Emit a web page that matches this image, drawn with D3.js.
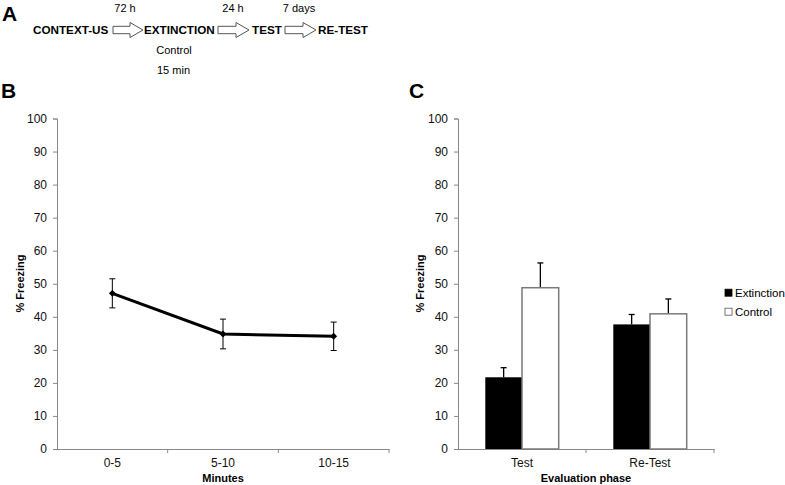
<!DOCTYPE html>
<html><head><meta charset="utf-8">
<script src="https://cdn.jsdelivr.net/npm/d3@7"></script>
<style>body{margin:0;background:#fff}svg{display:block;font-family:"Liberation Sans",Arial,sans-serif}</style>
</head><body>
<svg id="c" width="785" height="485"></svg>
<script>
// ---- data ----
const minuteCats = ["0-5", "5-10", "10-15"];
const minuteMeans = [47.1, 34.8, 34.1];
const minuteErr = [4.4, 4.5, 4.3];

const phaseCats = ["Test", "Re-Test"];
const groups = ["Extinction", "Control"];
const extinctionMeans = [21.7, 37.7];
const extinctionErr = [2.9, 3.0];
const controlMeans = [48.8, 40.9];
const controlErr = [7.5, 4.5];

const yTicks = [0, 10, 20, 30, 40, 50, 60, 70, 80, 90, 100];

const svg = d3.select("#c");
const axisCol = "#888";

// ---- panel A: protocol ----
function arrow(x0, x1, yc) {
  const sh = 3.7, hh = 7.5, hl = 13;
  const p = [[x0, yc - sh], [x1 - hl, yc - sh], [x1 - hl, yc - hh], [x1, yc], [x1 - hl, yc + hh], [x1 - hl, yc + sh], [x0, yc + sh]];
  svg.append("path").attr("d", "M" + p.join("L") + "Z").attr("fill", "#fff").attr("stroke", "#555").attr("stroke-width", 1);
}
svg.append("text").attr("x", 2).attr("y", 21).attr("font-size", 21).attr("font-weight", "bold").text("A");
const stepY = 34;
[["CONTEXT-US", 33], ["EXTINCTION", 144], ["TEST", 252], ["RE-TEST", 318]].forEach(([t, x]) =>
  svg.append("text").attr("x", x).attr("y", stepY).attr("font-size", 11.7).attr("font-weight", "bold").text(t));
arrow(113, 143, 30); arrow(218, 249, 30); arrow(285, 316, 30);
[["72 h", 125], ["24 h", 233], ["7 days", 299]].forEach(([t, x]) =>
  svg.append("text").attr("x", x).attr("y", 12).attr("font-size", 11).attr("text-anchor", "middle").text(t));
svg.append("text").attr("x", 174).attr("y", 54).attr("font-size", 11).attr("text-anchor", "middle").text("Control");
svg.append("text").attr("x", 157).attr("y", 74).attr("font-size", 11).text("15 min");

// ---- panel B ----
svg.append("text").attr("x", 1).attr("y", 98).attr("font-size", 21).attr("font-weight", "bold").text("B");
const bx = d3.scaleBand().domain(minuteCats).range([57, 389]);
const by = d3.scaleLinear().domain([0, 100]).range([449, 118.5]);
const gB = svg.append("g");
const yAxB = gB.append("g").attr("transform", "translate(57,0)")
  .call(d3.axisLeft(by).tickValues(yTicks).tickSize(4).tickPadding(6));
const xAxB = gB.append("g").attr("transform", "translate(0,449)")
  .call(d3.axisBottom(bx).tickSize(0).tickPadding(9));
// boundary ticks
gB.selectAll(".bt").data([1, 2, 3]).enter().append("line")
  .attr("x1", i => 57 + i * bx.step()).attr("x2", i => 57 + i * bx.step())
  .attr("y1", 449).attr("y2", 453).attr("stroke", axisCol);
[yAxB, xAxB].forEach(a => {
  a.select(".domain").attr("stroke", axisCol).attr("stroke-width", 1);
  a.selectAll(".tick line").attr("stroke", axisCol);
  a.selectAll("text").attr("font-size", 12).attr("fill", "#111").attr("font-family", "Liberation Sans, Arial, sans-serif");
});
const cx = c => bx(c) + bx.bandwidth() / 2;
// error bars
minuteCats.forEach((c, i) => {
  const x = cx(c), t = by(minuteMeans[i] + minuteErr[i]), b = by(minuteMeans[i] - minuteErr[i]);
  gB.append("line").attr("x1", x).attr("x2", x).attr("y1", t).attr("y2", b).attr("stroke", "#000").attr("stroke-width", 1);
  [t, b].forEach(yy => gB.append("line").attr("x1", x - 3).attr("x2", x + 3).attr("y1", yy).attr("y2", yy).attr("stroke", "#000").attr("stroke-width", 1));
});
gB.append("path").datum(minuteCats.map((c, i) => [cx(c), by(minuteMeans[i])]))
  .attr("d", d3.line()).attr("fill", "none").attr("stroke", "#000").attr("stroke-width", 3);
gB.selectAll(".mk").data(minuteCats).enter().append("path")
  .attr("transform", (c, i) => `translate(${cx(c)},${by(minuteMeans[i])})`)
  .attr("d", d3.symbol(d3.symbolDiamond2, 30)).attr("fill", "#000");
gB.append("text").attr("transform", "translate(24,283.5) rotate(-90)").attr("text-anchor", "middle")
  .attr("font-size", 11).attr("font-weight", "bold").text("% Freezing");
gB.append("text").attr("x", 223).attr("y", 482).attr("text-anchor", "middle")
  .attr("font-size", 11).attr("font-weight", "bold").text("Minutes");

// ---- panel C ----
svg.append("text").attr("x", 409).attr("y", 98).attr("font-size", 21).attr("font-weight", "bold").text("C");
const cxs = d3.scaleBand().domain(phaseCats).range([458, 714]);
const cy = d3.scaleLinear().domain([0, 100]).range([449, 118.5]);
const inner = d3.scaleBand().domain(groups).range([0, 73.4]);
const gC = svg.append("g");
const yAxC = gC.append("g").attr("transform", "translate(458,0)")
  .call(d3.axisLeft(cy).tickValues(yTicks).tickSize(4).tickPadding(6));
const xAxC = gC.append("g").attr("transform", "translate(0,449)")
  .call(d3.axisBottom(cxs).tickSize(0).tickPadding(9));
gC.selectAll(".bt").data([1, 2]).enter().append("line")
  .attr("x1", i => 458 + i * cxs.step()).attr("x2", i => 458 + i * cxs.step())
  .attr("y1", 449).attr("y2", 453).attr("stroke", axisCol);
[yAxC, xAxC].forEach(a => {
  a.select(".domain").attr("stroke", axisCol).attr("stroke-width", 1);
  a.selectAll(".tick line").attr("stroke", axisCol);
  a.selectAll("text").attr("font-size", 12).attr("fill", "#111").attr("font-family", "Liberation Sans, Arial, sans-serif");
});
const series = [
  { g: "Extinction", m: extinctionMeans, e: extinctionErr, fill: "#000", stroke: "none" },
  { g: "Control", m: controlMeans, e: controlErr, fill: "#fff", stroke: "#7a7a7a" }
];
series.forEach(s => {
  phaseCats.forEach((c, i) => {
    const x0 = cxs(c) + cxs.bandwidth() / 2 - 36.7 + inner(s.g);
    const w = inner.bandwidth();
    const xm = x0 + w / 2;
    gC.append("line").attr("x1", xm).attr("x2", xm).attr("y1", cy(s.m[i])).attr("y2", cy(s.m[i] + s.e[i]))
      .attr("stroke", "#000").attr("stroke-width", 1.3);
    gC.append("line").attr("x1", xm - 3).attr("x2", xm + 3).attr("y1", cy(s.m[i] + s.e[i])).attr("y2", cy(s.m[i] + s.e[i]))
      .attr("stroke", "#000").attr("stroke-width", 1.3);
    gC.append("rect").attr("x", x0).attr("y", cy(s.m[i])).attr("width", w).attr("height", cy(0) - cy(s.m[i]))
      .attr("fill", s.fill).attr("stroke", s.stroke).attr("stroke-width", 1.5);
  });
});
gC.append("text").attr("transform", "translate(424,283.5) rotate(-90)").attr("text-anchor", "middle")
  .attr("font-size", 11).attr("font-weight", "bold").text("% Freezing");
gC.append("text").attr("x", 586).attr("y", 482).attr("text-anchor", "middle")
  .attr("font-size", 11).attr("font-weight", "bold").text("Evaluation phase");
// legend
series.forEach((s, i) => {
  const ly = 292.7 + i * 19;
  gC.append("rect").attr("x", 725).attr("y", ly - 3.5).attr("width", 7).attr("height", 7)
    .attr("fill", s.fill).attr("stroke", s.fill === "#000" ? "#000" : "#555").attr("stroke-width", 0.8);
  gC.append("text").attr("x", 735).attr("y", ly + 4).attr("font-size", 11.5).text(s.g);
});
</script>
</body></html>
